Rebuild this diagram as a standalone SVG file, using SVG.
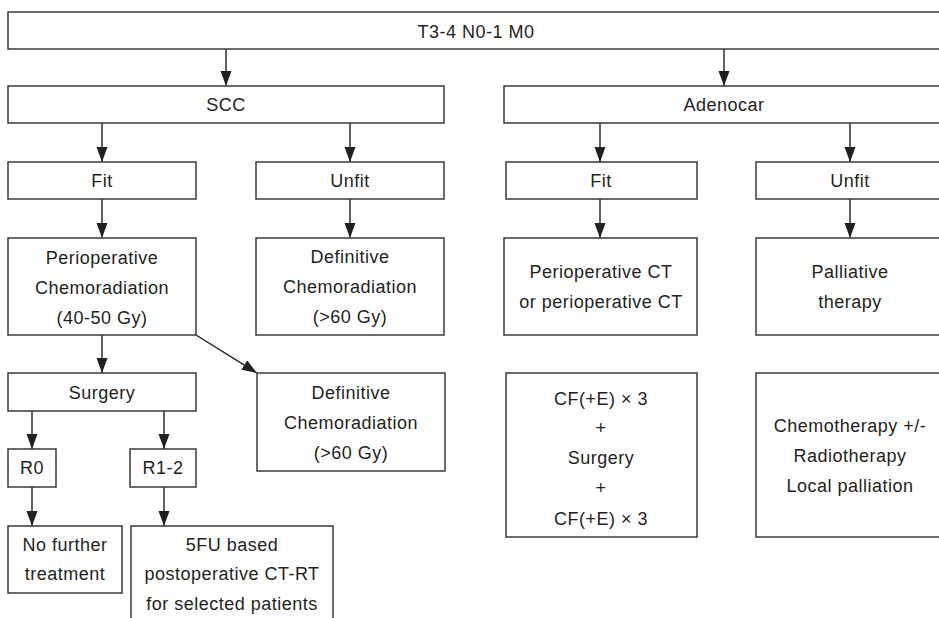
<svg xmlns="http://www.w3.org/2000/svg" width="939" height="618" viewBox="0 0 939 618">
<style>
.box{fill:#fff;stroke:#3a3a3a;stroke-width:1.5}
.t{font-family:"Liberation Sans",Arial,sans-serif;font-size:18px;letter-spacing:0.5px;fill:#231f20;text-anchor:middle}
.c{stroke:#231f20;stroke-width:1.4;fill:none}
</style>
<defs>
<marker id="ah" markerUnits="userSpaceOnUse" markerWidth="17" markerHeight="13" refX="15" refY="5.5" orient="auto">
<path d="M0,0 L15,5.5 L0,11 Z" fill="#231f20"/>
</marker>
</defs>
<rect width="939" height="618" fill="#fff"/>
<g id="connectors">
<line class="c" x1="226" y1="49" x2="226" y2="86" marker-end="url(#ah)"/>
<line class="c" x1="724" y1="49" x2="724" y2="86" marker-end="url(#ah)"/>
<line class="c" x1="102" y1="123" x2="102" y2="162" marker-end="url(#ah)"/>
<line class="c" x1="350" y1="123" x2="350" y2="162" marker-end="url(#ah)"/>
<line class="c" x1="600" y1="123" x2="600" y2="162" marker-end="url(#ah)"/>
<line class="c" x1="850" y1="123" x2="850" y2="162" marker-end="url(#ah)"/>
<line class="c" x1="102" y1="199" x2="102" y2="238" marker-end="url(#ah)"/>
<line class="c" x1="350" y1="199" x2="350" y2="238" marker-end="url(#ah)"/>
<line class="c" x1="600" y1="199" x2="600" y2="238" marker-end="url(#ah)"/>
<line class="c" x1="850" y1="199" x2="850" y2="238" marker-end="url(#ah)"/>
<line class="c" x1="102" y1="335" x2="102" y2="373" marker-end="url(#ah)"/>
<line class="c" x1="196" y1="335" x2="257" y2="373" marker-end="url(#ah)"/>
<line class="c" x1="32" y1="411" x2="32" y2="449" marker-end="url(#ah)"/>
<line class="c" x1="164" y1="411" x2="164" y2="449" marker-end="url(#ah)"/>
<line class="c" x1="32" y1="487" x2="32" y2="526" marker-end="url(#ah)"/>
<line class="c" x1="164" y1="487" x2="164" y2="526" marker-end="url(#ah)"/>
</g>
<g id="n-top"><rect class="box" x="8" y="12" width="936" height="37"/><text class="t" x="476" y="37.5">T3-4 N0-1 M0</text></g>
<g id="n-scc"><rect class="box" x="8" y="86" width="436" height="37"/><text class="t" x="226" y="111">SCC</text></g>
<g id="n-adeno"><rect class="box" x="504" y="86" width="440" height="37"/><text class="t" x="724" y="111">Adenocar</text></g>
<g id="n-fit1"><rect class="box" x="8" y="162" width="188" height="37"/><text class="t" x="102" y="187">Fit</text></g>
<g id="n-unfit1"><rect class="box" x="256" y="162" width="188" height="37"/><text class="t" x="350" y="187">Unfit</text></g>
<g id="n-fit2"><rect class="box" x="506" y="162" width="191" height="37"/><text class="t" x="601" y="187">Fit</text></g>
<g id="n-unfit2"><rect class="box" x="756" y="162" width="188" height="37"/><text class="t" x="850" y="187">Unfit</text></g>
<g id="n-periop"><rect class="box" x="8" y="238" width="188" height="97"/>
<text class="t" x="102" y="264">Perioperative</text><text class="t" x="102" y="294">Chemoradiation</text><text class="t" x="102" y="324">(40-50 Gy)</text></g>
<g id="n-def1"><rect class="box" x="256" y="238" width="188" height="97"/>
<text class="t" x="350" y="263">Definitive</text><text class="t" x="350" y="293">Chemoradiation</text><text class="t" x="350" y="323">(&gt;60 Gy)</text></g>
<g id="n-periopct"><rect class="box" x="504" y="238" width="193" height="97"/>
<text class="t" x="601" y="278">Perioperative CT</text><text class="t" x="601" y="308">or perioperative CT</text></g>
<g id="n-palliative"><rect class="box" x="756" y="238" width="188" height="97"/>
<text class="t" x="850" y="278">Palliative</text><text class="t" x="850" y="308">therapy</text></g>
<g id="n-surgery"><rect class="box" x="8" y="373" width="188" height="38"/><text class="t" x="102" y="399">Surgery</text></g>
<g id="n-def2"><rect class="box" x="257" y="373" width="188" height="98"/>
<text class="t" x="351" y="399">Definitive</text><text class="t" x="351" y="429">Chemoradiation</text><text class="t" x="351" y="459">(&gt;60 Gy)</text></g>
<g id="n-cf"><rect class="box" x="506" y="373" width="191" height="164"/>
<text class="t" x="601" y="405">CF(+E) × 3</text><text class="t" x="601" y="434">+</text><text class="t" x="601" y="464">Surgery</text><text class="t" x="601" y="494">+</text><text class="t" x="601" y="525">CF(+E) × 3</text></g>
<g id="n-chemo"><rect class="box" x="756" y="373" width="188" height="164"/>
<text class="t" x="850" y="432">Chemotherapy +/-</text><text class="t" x="850" y="462">Radiotherapy</text><text class="t" x="850" y="492">Local palliation</text></g>
<g id="n-r0"><rect class="box" x="8" y="449" width="48" height="38"/><text class="t" x="32" y="474">R0</text></g>
<g id="n-r12"><rect class="box" x="130" y="449" width="66" height="38"/><text class="t" x="163" y="474">R1-2</text></g>
<g id="n-nofurther"><rect class="box" x="8" y="526" width="114" height="67"/>
<text class="t" x="65" y="551">No further</text><text class="t" x="65" y="580">treatment</text></g>
<g id="n-5fu"><rect class="box" x="131" y="526" width="202" height="100"/>
<text class="t" x="232" y="551">5FU based</text><text class="t" x="232" y="580">postoperative CT-RT</text><text class="t" x="232" y="610">for selected patients</text></g>
</svg>
